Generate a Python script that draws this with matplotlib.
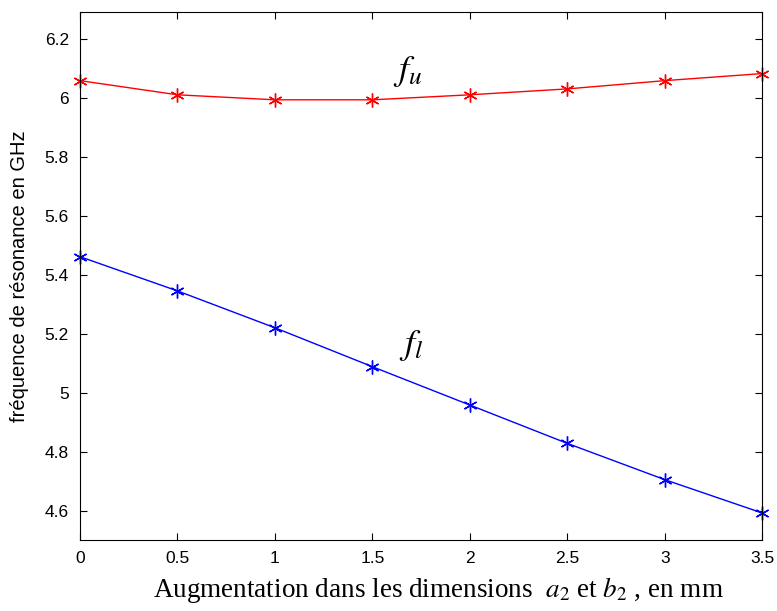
import numpy as np
import matplotlib.pyplot as plt

plt.rcParams['font.family'] = ['Liberation Sans', 'DejaVu Sans']
plt.rcParams['mathtext.fontset'] = 'stix'

x = [0, 0.5, 1, 1.5, 2, 2.5, 3, 3.5]
f_u = [6.058, 6.010, 5.993, 5.993, 6.010, 6.030, 6.058, 6.082]
f_l = [5.461, 5.345, 5.220, 5.088, 4.958, 4.828, 4.705, 4.592]

xticks = [0, 0.5, 1, 1.5, 2, 2.5, 3, 3.5]
xticklabels = ['0', '0.5', '1', '1.5', '2', '2.5', '3', '3.5']
yticks = [4.6, 4.8, 5.0, 5.2, 5.4, 5.6, 5.8, 6.0, 6.2]
yticklabels = ['4.6', '4.8', '5', '5.2', '5.4', '5.6', '5.8', '6', '6.2']

fig = plt.figure(figsize=(7.77, 6.11), dpi=100)
ax = fig.add_axes([0.103, 0.116, 0.878, 0.864])

ax.plot(x, f_u, color='red', lw=1, marker=(6, 2, 0), ms=10, mew=1, clip_on=False)
ax.plot(x, f_l, color='blue', lw=1, marker=(6, 2, 0), ms=10, mew=1, clip_on=False)

ax.text(1.68, 6.09, '$f_u$', fontsize=26, ha='center', va='center')
ax.text(1.70, 5.16, '$f_l$', fontsize=26, ha='center', va='center')

ax.set_xlim(0, 3.5)
ax.set_ylim(4.5, 6.29)
ax.set_xticks(xticks)
ax.set_xticklabels(xticklabels)
ax.set_yticks(yticks)
ax.set_yticklabels(yticklabels)
ax.tick_params(direction='in', top=True, right=True, labelsize=12.5, length=5, pad=8)

ax.set_ylabel('fréquence de résonance en GHz', fontsize=14.5)
ax.yaxis.set_label_coords(-0.075, 0.5)
ax.set_xlabel('Augmentation dans les dimensions  $a_2$ et $b_2$ , en mm',
              fontsize=19.5, family='Liberation Serif')
ax.xaxis.set_label_coords(0.525, -0.066)

fig.savefig('out.png', dpi=100)
